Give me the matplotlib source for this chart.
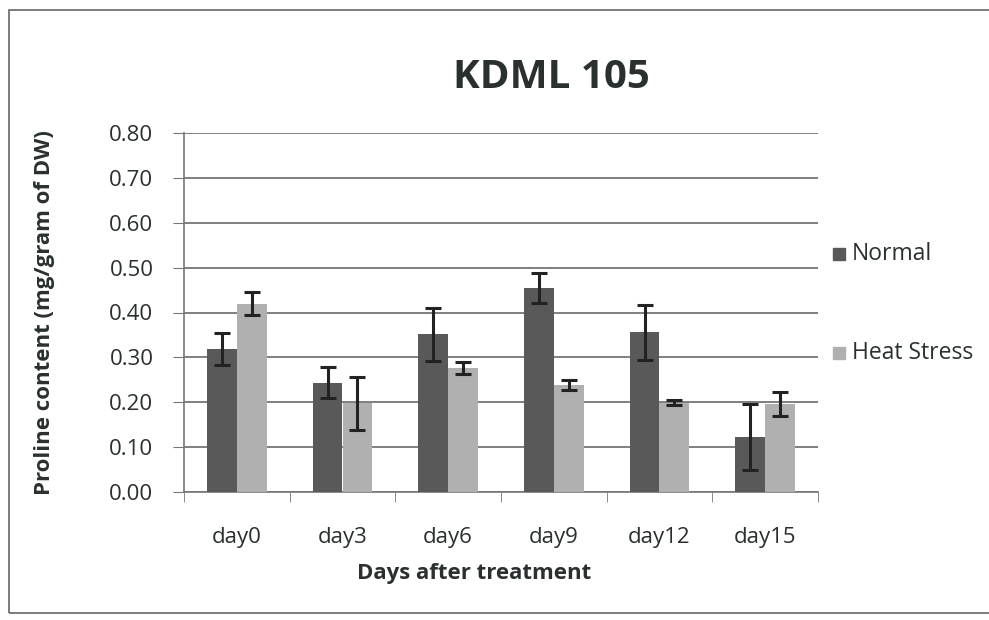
import matplotlib
matplotlib.use("Agg")
import matplotlib.pyplot as plt
import numpy as np
from matplotlib.patches import Rectangle

categories = ["day0", "day3", "day6", "day9", "day12", "day15"]
normal = [0.318, 0.244, 0.352, 0.455, 0.356, 0.123]
normal_err = [0.036, 0.034, 0.059, 0.034, 0.061, 0.074]
heat = [0.420, 0.198, 0.276, 0.238, 0.199, 0.196]
heat_err = [0.026, 0.059, 0.014, 0.011, 0.006, 0.026]
series_names = ["Normal", "Heat Stress"]
yticks = [0.0, 0.1, 0.2, 0.3, 0.4, 0.5, 0.6, 0.7, 0.8]

plt.rcParams['font.family'] = ['Open Sans', 'DejaVu Sans']
txt = "#2a2f2f"

fig = plt.figure(figsize=(9.89, 6.2), dpi=100)
fig.patch.set_facecolor("white")
ax = fig.add_axes([184/989, 1-492/620, 634/989, 359/620])

x = np.arange(len(categories))
w = 0.283
ax.bar(x - w/2, normal, w, color="#595959", zorder=3, label=series_names[0])
ax.bar(x + w/2, heat, w, color="#b0b0b0", zorder=3, label=series_names[1])
ax.errorbar(x - w/2, normal, yerr=normal_err, fmt="none", ecolor="#222222",
            elinewidth=2.2, capsize=6, capthick=2.2, zorder=4)
ax.errorbar(x + w/2, heat, yerr=heat_err, fmt="none", ecolor="#222222",
            elinewidth=2.2, capsize=6, capthick=2.2, zorder=4)

ax.set_xlim(-0.5, len(categories) - 0.5)
ax.set_ylim(0, 0.8)
ax.set_yticks(yticks)
ax.set_yticklabels([f"{v:.2f}" for v in yticks], fontsize=16, color=txt)
ax.yaxis.grid(True, color="#6a6a6a", linewidth=1.2, zorder=0)
ax.set_axisbelow(True)
ax.set_xticks(x)
ax.set_xticklabels(categories, fontsize=16, color=txt)
ax.set_xticks(np.arange(len(categories) + 1) - 0.5, minor=True)
ax.tick_params(axis="x", which="major", length=0, pad=25)
ax.tick_params(axis="x", which="minor", length=7, color="#777777", direction="out")
ax.tick_params(axis="y", length=8, color="#777777", direction="out", pad=14)
for s in ["top", "right"]:
    ax.spines[s].set_visible(False)
for s in ["left", "bottom"]:
    ax.spines[s].set_color("#777777")
    ax.spines[s].set_linewidth(1.2)

fig.text(474/989, 1-573/620, "Days after treatment", fontsize=16, fontweight="bold",
         color=txt, ha="center", va="center")
fig.text(45/989, 1-313/620, "Proline content (mg/gram of DW)", fontsize=16, fontweight="bold",
         color=txt, ha="center", va="center", rotation=90)

fig.text(551/989, 1-77/620, "KDML 105", fontsize=29, fontweight="bold", color=txt,
         ha="center", va="center")

# legend
for yy, col, name in [(254, "#595959", series_names[0]), (353, "#b0b0b0", series_names[1])]:
    fig.patches.append(Rectangle((833/989, 1-(yy+6)/620), 12/989, 12/620,
                                 transform=fig.transFigure, color=col, figure=fig))
    fig.text(852/989, 1-yy/620, name, fontsize=16.5, color=txt, ha="left", va="center")

# outer border
fig.patches.append(Rectangle((9/989, 1-613/620), 990/989, 603/620, transform=fig.transFigure,
                             fill=False, edgecolor="#666666", linewidth=1.2, figure=fig))

fig.savefig("out.png", dpi=100)
